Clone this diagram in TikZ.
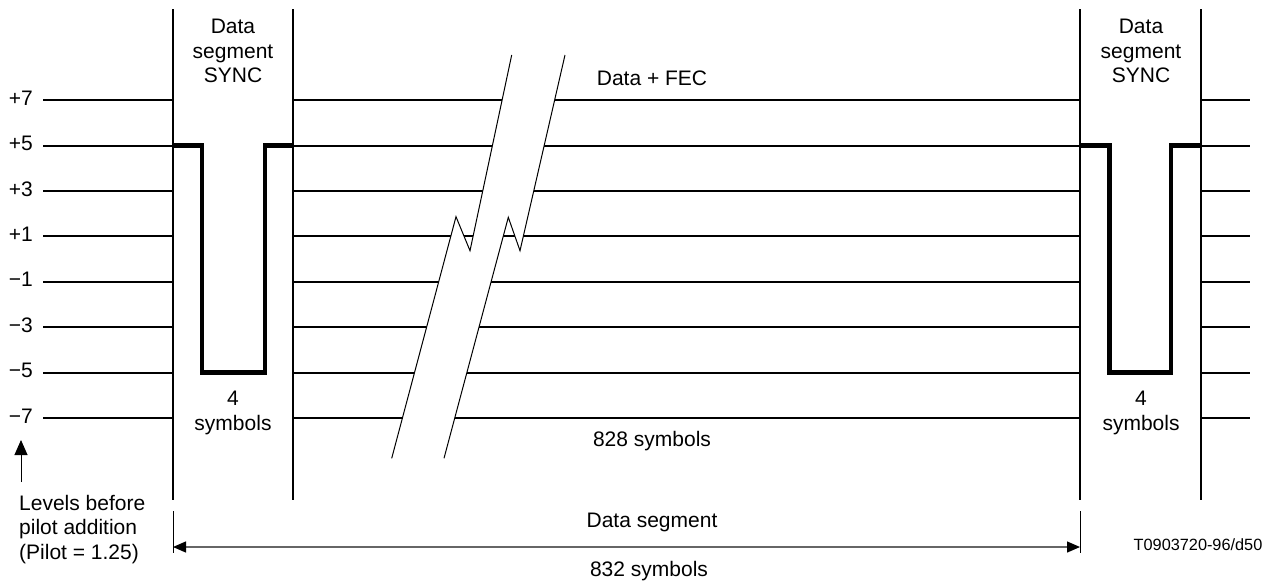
\documentclass[tikz,border=0pt]{standalone}
\usepackage{fontspec}
\setmainfont{Liberation Sans}
\usetikzlibrary{arrows.meta, positioning}

\begin{document}
\begin{tikzpicture}[
    x=1pt, y=-1pt,
    level/.style={line width=2pt},
    wall/.style={line width=2pt},
    sync/.style={line width=4.5pt, line join=miter},
    brk/.style={line width=1pt},
    lbl/.style={font=\fontsize{21}{24.5}\selectfont, inner sep=0pt, align=center},
    dimarr/.style={{Triangle[length=13pt,width=11pt,color=black]}-{Triangle[length=13pt,width=11pt,color=black]}, line width=1.3pt, draw=black!60},
    tick/.style={line width=1pt},
    uparr/.style={-{Triangle[length=15pt,width=13pt]}, line width=1pt}
]
\useasboundingbox (0,0) rectangle (1276,587);

% signal levels
\foreach \lv/\yy in {+7/100, +5/145.5, +3/191, +1/236, −1/281.5, −3/327, −5/372.5, −7/418} {
  \node[lbl, anchor=base east] at (33,\yy+5) {\lv};
  \draw[level] (43,\yy) -- (173,\yy);
  \draw[level] (293,\yy) -- (1080,\yy);
  \draw[level] (1201,\yy) -- (1250,\yy);
}

% segment sync borders
\foreach \xx in {173,293,1080,1201}
  \draw[wall] (\xx,9) -- (\xx,500);

% sync pulses
\draw[sync] (173,145.5) -| (202,372.5) -| (265,145.5) -- (293,145.5);
\draw[sync] (1080,145.5) -| (1109.5,372.5) -| (1171,145.5) -- (1201,145.5);

% break mark
\fill[white] (511.7,55) -- (470,250.7) -- (456,216.7) -- (391.7,458.3)
  -- (444,458.3) -- (508.3,217.3) -- (520,250.7) -- (565,55) -- cycle;
\draw[brk] (511.7,55) -- (470,250.7) -- (456,216.7) -- (391.7,458.3);
\draw[brk] (565,55) -- (520,250.7) -- (508.3,217.3) -- (444,458.3);

% labels
\node[lbl, anchor=north] (syncL) at (233,19) {Data\\segment\\SYNC};
\node[lbl, anchor=north] (syncR) at (1141,19) {Data\\segment\\SYNC};
\node[lbl, anchor=north] (symL) at (233,391) {4\\symbols};
\node[lbl, anchor=north] (symR) at (1141,391) {4\\symbols};
\node[lbl, anchor=base] (fec) at (652,85) {Data + FEC};
\node[lbl, anchor=base] (n828) at (652,446) {828 symbols};
\node[lbl, anchor=base] (dseg) at (652,527.7) {Data segment};
\node[lbl, anchor=base] (n832) at (649,576.7) {832 symbols};
\node[lbl, anchor=north west, align=left] (lvl) at (19,495) {Levels before\\pilot addition\\(Pilot = 1.25)};
\node[font=\fontsize{16.3}{18}\selectfont, inner sep=0pt, anchor=base] (ref) at (1198,550.7) {T0903720-96/d50};

% level arrow
\coordinate (arrBot) at (21,482);
\coordinate (arrTop) at (21,440);
\draw[uparr] (arrBot) -- (arrTop);

% data segment dimension
\coordinate (segL) at (173,547);
\coordinate (segR) at (1080,547);
\coordinate (tickLt) at (173,511);
\coordinate (tickLb) at (173,553);
\coordinate (tickRt) at (1080,511);
\coordinate (tickRb) at (1080,553);
\draw[tick] (tickLt) -- (tickLb);
\draw[tick] (tickRt) -- (tickRb);
\draw[dimarr] (segL) -- (segR);
\end{tikzpicture}
\end{document}
